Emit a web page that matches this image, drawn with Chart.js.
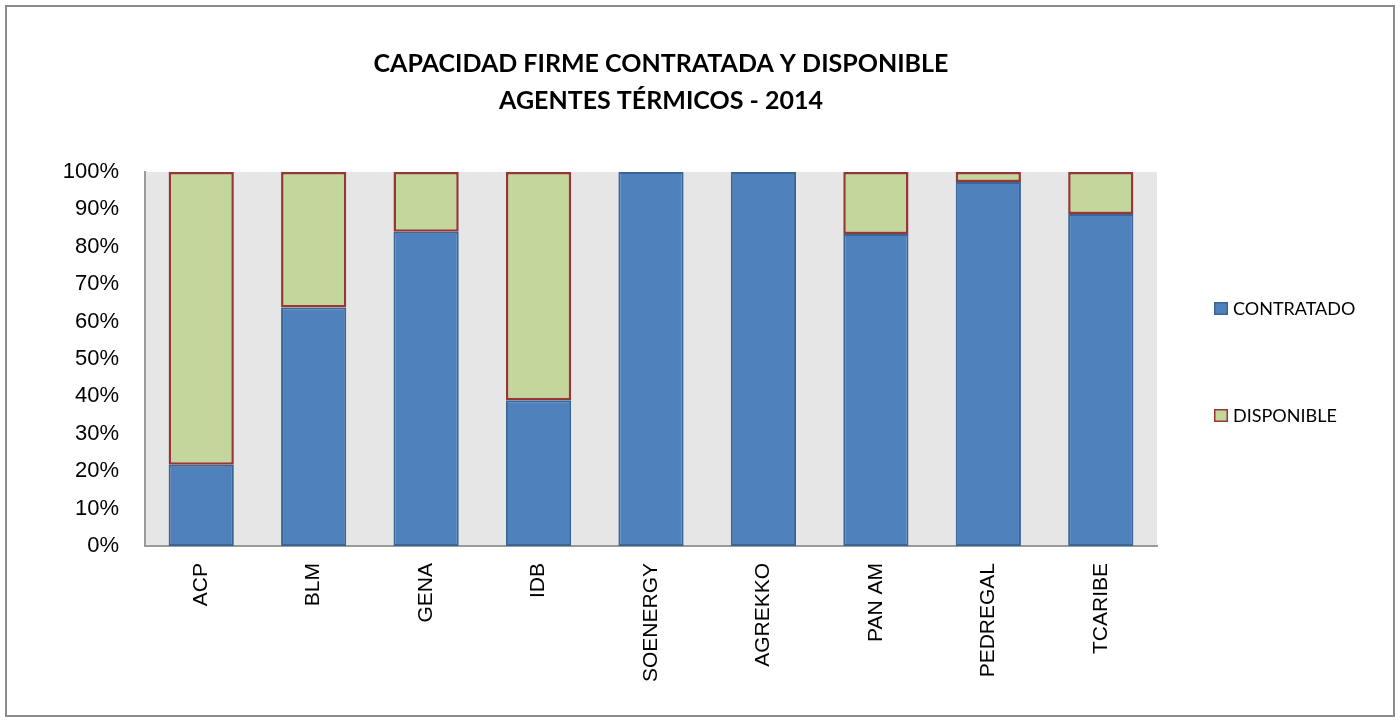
<!DOCTYPE html>
<html>
<head>
<meta charset="utf-8">
<script src="https://cdn.jsdelivr.net/npm/chart.js@4"></script>
<style>
  html, body { margin: 0; padding: 0; background: #fff; }
  #wrap { width: 1400px; height: 722px; position: relative; }
</style>
</head>
<body>
<div id="wrap"><canvas id="capChart" width="1400" height="722"></canvas></div>
<script>
// data (percent of firm capacity)
const agentes = ['ACP', 'BLM', 'GENA', 'IDB', 'SOENERGY', 'AGREKKO', 'PAN AM', 'PEDREGAL', 'TCARIBE'];
const contratado = [21.7, 63.8, 84.0, 39.0, 100, 100, 83.4, 97.3, 88.8];
const disponible = [78.3, 36.2, 16.0, 61.0, 0, 0, 16.6, 2.7, 11.2];
const titleLines = ['CAPACIDAD FIRME CONTRATADA Y DISPONIBLE', 'AGENTES TÉRMICOS - 2014'];

// gray plot area + outer frame
const plotBackground = {
  id: 'plotBackground',
  beforeDraw(chart) {
    const { ctx, chartArea: a } = chart;
    ctx.save();
    ctx.fillStyle = '#fff';
    ctx.fillRect(0, 0, chart.width, chart.height);
    ctx.strokeStyle = '#8c8c8c';
    ctx.lineWidth = 2;
    ctx.strokeRect(6, 6, 1388, 710);
    ctx.fillStyle = '#e6e6e6';
    ctx.fillRect(a.left, a.top, a.right - a.left, a.bottom - a.top);
    ctx.restore();
  }
};

// title drawn above the plot
const twoLineTitle = {
  id: 'twoLineTitle',
  afterDraw(chart) {
    const ctx = chart.ctx;
    ctx.save();
    ctx.fillStyle = '#000';
    ctx.font = 'bold 25px Lato';
    ctx.textAlign = 'center';
    ctx.textBaseline = 'middle';
    ctx.fillText(titleLines[0], 661, 64);
    ctx.fillText(titleLines[1], 661, 101);
    ctx.restore();
  }
};

// legend on the right, spaced like the original
const sideLegend = {
  id: 'sideLegend',
  afterDraw(chart) {
    const ctx = chart.ctx;
    const ys = [308.5, 415.5];
    ctx.save();
    chart.data.datasets.forEach((ds, i) => {
      ctx.fillStyle = ds.backgroundColor;
      ctx.fillRect(1214, ys[i] - 6.5, 14, 13);
      ctx.strokeStyle = ds.borderColor;
      ctx.lineWidth = 1.5;
      ctx.strokeRect(1214.75, ys[i] - 5.75, 12.5, 11.5);
      ctx.fillStyle = '#000';
      ctx.font = '18px Lato';
      ctx.textAlign = 'left';
      ctx.textBaseline = 'middle';
      ctx.fillText(ds.label, 1233, ys[i] + 1);
    });
    ctx.restore();
  }
};

new Chart(document.getElementById('capChart'), {
  type: 'bar',
  data: {
    labels: agentes,
    datasets: [
      {
        label: 'CONTRATADO',
        data: contratado,
        backgroundColor: '#4f81bd',
        borderColor: '#3a6597',
        borderWidth: 2,
        borderSkipped: false
      },
      {
        label: 'DISPONIBLE',
        data: disponible,
        backgroundColor: '#c3d69b',
        borderColor: '#953735',
        borderWidth: 2.5,
        borderSkipped: false
      }
    ]
  },
  options: {
    responsive: false,
    animation: false,
    layout: { padding: { top: 172, right: 243, left: 0, bottom: 0 } },
    datasets: { bar: { categoryPercentage: 1, barPercentage: 0.58 } },
    plugins: {
      legend: { display: false },
      title: { display: false },
      tooltip: { enabled: false }
    },
    scales: {
      x: {
        stacked: true,
        grid: { display: false, drawTicks: false },
        border: { display: true, color: '#9a9a9a', width: 2 },
        ticks: {
          color: '#000',
          font: { family: 'Liberation Sans', size: 21 },
          minRotation: 90,
          maxRotation: 90,
          autoSkip: false,
          padding: 17
        },
        afterFit: s => { s.height = 176; }
      },
      y: {
        stacked: true,
        min: 0,
        max: 100,
        grid: { display: false, drawTicks: false },
        border: { display: true, color: '#9a9a9a', width: 2 },
        ticks: {
          stepSize: 10,
          color: '#000',
          font: { family: 'Liberation Sans', size: 22 },
          padding: 26,
          callback: v => v + '%'
        },
        afterFit: s => { s.width = 145; }
      }
    }
  },
  plugins: [plotBackground, twoLineTitle, sideLegend]
});
</script>
</body>
</html>
